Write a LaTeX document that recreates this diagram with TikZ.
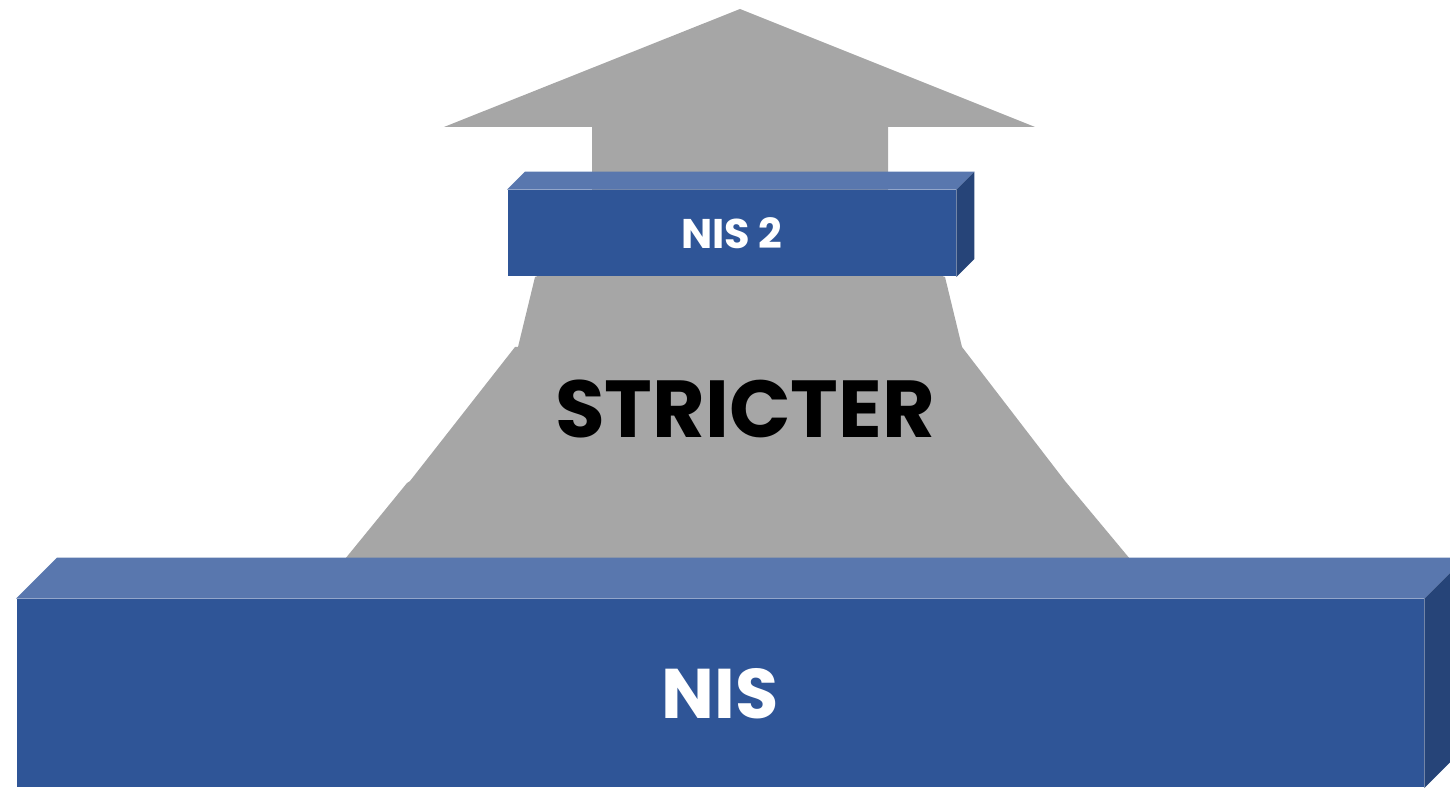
\documentclass[tikz,border=0pt]{standalone}
\usepackage{fontspec}
\setmainfont{Poppins}
\usetikzlibrary{calc}
\definecolor{front}{HTML}{2F5597}
\definecolor{top}{HTML}{5977AE}
\definecolor{side}{HTML}{264478}
\definecolor{arrowgrey}{HTML}{A6A6A6}

\begin{document}
\begin{tikzpicture}[font=\bfseries,
  frontbox/.style={fill=front,draw=none,inner sep=0pt,text=white,anchor=south west},
  topface/.style={fill=top,draw=none},
  sideface/.style={fill=side,draw=none},
  label/.style={inner sep=0pt,text=black}]
  \useasboundingbox (0,0) rectangle (14.5,7.88);
  \clip (0,0) rectangle (14.5,7.88);
  % big grey arrow, drawn first so the boxes sit on it
  \fill[arrowgrey] (7.40,7.79) -- (10.35,6.61) -- (8.88,6.61) -- (8.88,5.30)
    -- (9.45,5.11) -- (9.62,4.41) -- (10.65,3.07) -- (11.30,2.29)
    -- (3.45,2.29) -- (4.07,3.05) -- (4.10,3.07) -- (5.15,4.41) -- (5.18,4.41)
    -- (5.35,5.11) -- (5.92,5.30) -- (5.92,6.61) -- (4.44,6.61) -- cycle;
  \node[label,font=\bfseries\fontsize{23}{25}\selectfont] (stricter) at (7.45,3.79) {STRICTER};
  % NIS 2 block
  \node[frontbox,minimum width=4.48cm,minimum height=0.86cm,
    font=\bfseries\fontsize{11.8}{13}\selectfont] (nistwo) at (5.07,5.11) {NIS 2};
  \fill[topface] (nistwo.north west) -- ++(0.18,0.18) -- ($(nistwo.north east)+(0.18,0.18)$)
    -- (nistwo.north east) -- cycle;
  \fill[sideface] (nistwo.south east) -- (nistwo.north east) -- ++(0.18,0.18)
    -- ($(nistwo.south east)+(0.18,0.18)$) -- cycle;
  % NIS block
  \node[frontbox,minimum width=14.07cm,minimum height=1.88cm,
    font=\bfseries\fontsize{20}{22}\selectfont] (nis) at (0.16,0) {NIS};
  \fill[topface] (nis.north west) -- ++(0.41,0.41) -- ($(nis.north east)+(0.41,0.41)$)
    -- (nis.north east) -- cycle;
  \fill[sideface] (nis.south east) -- (nis.north east) -- ++(0.41,0.41)
    -- ($(nis.south east)+(0.41,0.41)$) -- cycle;
\end{tikzpicture}
\end{document}
